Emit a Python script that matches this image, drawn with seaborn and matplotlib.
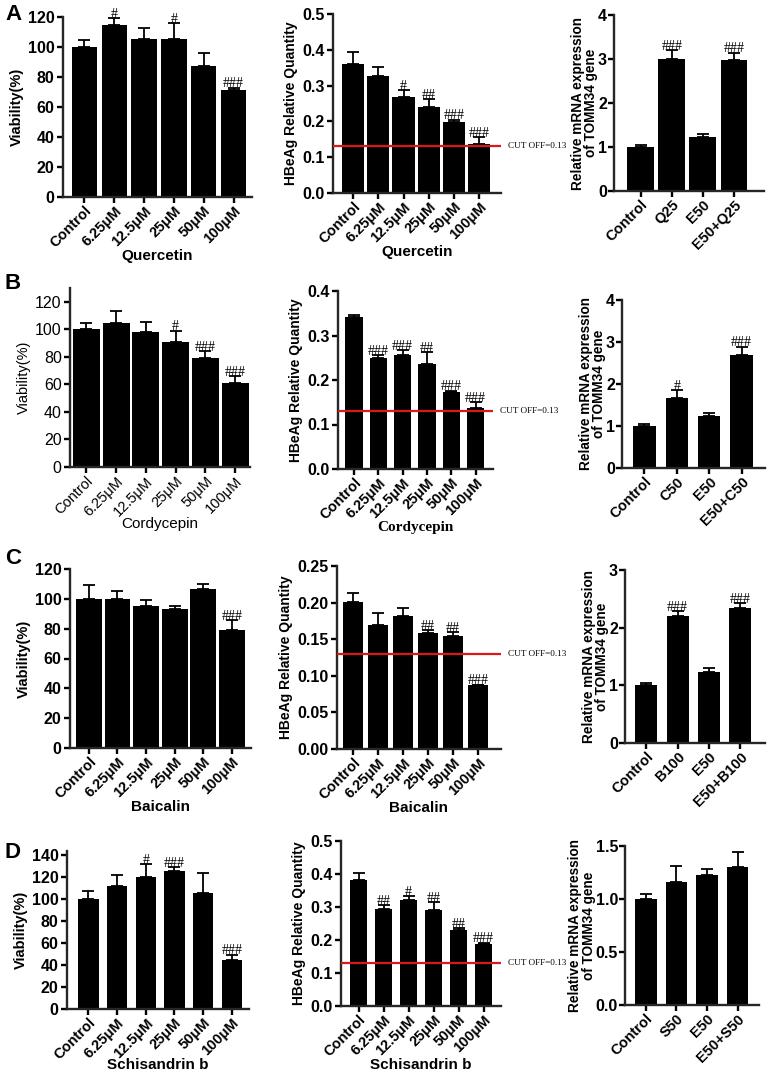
import numpy as np
import pandas as pd
import seaborn as sns
import matplotlib.pyplot as plt
from matplotlib.ticker import FormatStrFormatter

conc_labels = ["Control", "6.25μM", "12.5μM", "25μM", "50μM", "100μM"]

# row A - Quercetin
quercetin_viab = [100, 115, 105.6, 105.6, 87.3, 71.6]
quercetin_viab_err = [5, 4.5, 7.3, 10.2, 9, 1.3]
quercetin_viab_sig = ["", "#", "", "#", "", "###"]
quercetin_hbeag = [0.361, 0.328, 0.267, 0.240, 0.198, 0.138]
quercetin_hbeag_err = [0.033, 0.023, 0.021, 0.022, 0.007, 0.018]
quercetin_hbeag_sig = ["", "", "#", "##", "###", "###"]
quercetin_groups = ["Control", "Q25", "E50", "E50+Q25"]
quercetin_tomm = [1.0, 3.0, 1.23, 2.975]
quercetin_tomm_err = [0.05, 0.2, 0.06, 0.17]
quercetin_tomm_sig = ["", "###", "", "###"]

# row B - Cordycepin
cordycepin_viab = [100, 104.6, 98.3, 91, 79, 60.9]
cordycepin_viab_err = [4.5, 8.5, 6.7, 8, 5, 5]
cordycepin_viab_sig = ["", "", "", "#", "###", "###"]
cordycepin_hbeag = [0.341, 0.250, 0.257, 0.237, 0.173, 0.137]
cordycepin_hbeag_err = [0.006, 0.006, 0.011, 0.026, 0.003, 0.013]
cordycepin_hbeag_sig = ["", "###", "###", "##", "###", "###"]
cordycepin_groups = ["Control", "C50", "E50", "E50+C50"]
cordycepin_tomm = [1.0, 1.67, 1.24, 2.68]
cordycepin_tomm_err = [0.05, 0.18, 0.06, 0.21]
cordycepin_tomm_sig = ["", "#", "", "###"]

# row C - Baicalin
baicalin_viab = [100, 100, 95, 93, 106.8, 78.9]
baicalin_viab_err = [9, 5, 4, 2, 3.3, 7]
baicalin_viab_sig = ["", "", "", "", "", "###"]
baicalin_hbeag = [0.2005, 0.170, 0.182, 0.158, 0.155, 0.087]
baicalin_hbeag_err = [0.013, 0.016, 0.011, 0.004, 0.005, 0.001]
baicalin_hbeag_sig = ["", "", "", "##", "##", "###"]
baicalin_groups = ["Control", "B100", "E50", "E50+B100"]
baicalin_tomm = [1.0, 2.21, 1.233, 2.345]
baicalin_tomm_err = [0.04, 0.08, 0.06, 0.085]
baicalin_tomm_sig = ["", "###", "", "###"]

# row D - Schisandrin b
schisandrin_viab = [100, 111.7, 119.9, 126, 105.9, 45]
schisandrin_viab_err = [8, 10, 12.5, 3.3, 18.3, 4.6]
schisandrin_viab_sig = ["", "", "#", "###", "", "###"]
schisandrin_hbeag = [0.381, 0.293, 0.320, 0.290, 0.231, 0.189]
schisandrin_hbeag_err = [0.021, 0.012, 0.014, 0.025, 0.006, 0.003]
schisandrin_hbeag_sig = ["", "##", "#", "##", "##", "###"]
schisandrin_groups = ["Control", "S50", "E50", "E50+S50"]
schisandrin_tomm = [1.0, 1.16, 1.23, 1.30]
schisandrin_tomm_err = [0.045, 0.15, 0.05, 0.146]
schisandrin_tomm_sig = ["", "", "", ""]

cutoff = 0.13

sns.set_style("ticks")
plt.rcParams["font.family"] = ["Liberation Sans", "DejaVu Sans"]
plt.rcParams["axes.linewidth"] = 1.7
plt.rcParams["xtick.major.width"] = 1.7
plt.rcParams["ytick.major.width"] = 1.7
plt.rcParams["xtick.major.size"] = 4
plt.rcParams["ytick.major.size"] = 4
plt.rcParams["text.color"] = "black"
plt.rcParams["axes.labelcolor"] = "black"
plt.rcParams["xtick.color"] = "black"
plt.rcParams["ytick.color"] = "black"

W, H = 768, 1078
fig = plt.figure(figsize=(W / 100, H / 100), dpi=100)


def axes_px(left, top, right, bottom):
    return fig.add_axes([left / W, 1 - bottom / H, (right - left) / W, (bottom - top) / H])


def bar_panel(ax, labels, values, errors, marks, ymax, ytop, ystep, yfmt,
              ylabel, xlabel, width, pads, weight="bold", xfont=None, cut=False,
              ylabel_size=10.5, ylabelpad=3, ytickpad=2, xlabelpad=-1):
    df = pd.DataFrame({"group": labels, "value": values})
    sns.barplot(data=df, x="group", y="value", color="black", saturation=1,
                width=width, linewidth=0, ax=ax)
    pos = np.arange(len(labels))
    ax.errorbar(pos, values, yerr=[np.zeros(len(values)), errors], fmt="none",
                ecolor="black", elinewidth=1.3, capsize=4.5, capthick=1.3)
    for p, v, e, m in zip(pos, values, errors, marks):
        if m:
            ax.annotate(m, (p, v + e), xytext=(0, -2), textcoords="offset points",
                        ha="center", va="bottom", fontsize=10,
                        family="Liberation Serif")
    if cut:
        ax.axhline(cutoff, color="#d7191c", lw=1.6, zorder=5)
        ax.annotate("CUT OFF=0.13", (1, cutoff), xycoords=("axes fraction", "data"),
                    xytext=(5, 0), textcoords="offset points", va="center",
                    ha="left", fontsize=6.6, family="Liberation Serif",
                    annotation_clip=False)
    ax.set_xlim(-pads[0], len(labels) - 1 + pads[1])
    ax.set_ylim(0, ytop)
    ax.set_yticks(np.arange(0, ymax + ystep / 2, ystep))
    ax.yaxis.set_major_formatter(FormatStrFormatter(yfmt))
    ax.set_ylabel(ylabel, fontsize=ylabel_size, weight=weight,
                  labelpad=ylabelpad, linespacing=0.95)
    xl = dict(fontsize=11, weight="bold", labelpad=xlabelpad)
    if xfont:
        xl["family"] = xfont
    if weight == "normal":
        xl["weight"] = "normal"
    ax.set_xlabel(xlabel, **xl)
    ax.tick_params(axis="y", labelsize=11.5, pad=ytickpad)
    ax.tick_params(axis="x", labelsize=10.5, pad=1)
    for t in ax.get_yticklabels():
        t.set_fontweight(weight)
    for t in ax.get_xticklabels():
        t.set_fontweight(weight)
        t.set_rotation(45)
        t.set_ha("right")
        t.set_rotation_mode("anchor")
    sns.despine(ax=ax)


viab_label = "Viability(%)"
hbeag_label = "HBeAg Relative Quantity"
tomm_label = "Relative mRNA expression\nof TOMM34 gene"
hb = dict(cut=True, ylabel_size=10)
tm = dict(ylabel_size=9.8, ylabelpad=0, ytickpad=1)

# row A
ax = axes_px(63, 17, 252, 197)
bar_panel(ax, conc_labels, quercetin_viab, quercetin_viab_err, quercetin_viab_sig,
          120, 120, 20, "%d", viab_label, "Quercetin", 0.85, (0.72, 0.62))
ax = axes_px(333, 14, 501, 193)
bar_panel(ax, conc_labels, quercetin_hbeag, quercetin_hbeag_err, quercetin_hbeag_sig,
          0.5, 0.5, 0.1, "%.1f", hbeag_label, "Quercetin", 0.88, (0.8, 0.87), **hb)
ax = axes_px(614, 15, 764, 191)
bar_panel(ax, quercetin_groups, quercetin_tomm, quercetin_tomm_err, quercetin_tomm_sig,
          4, 4, 1, "%d", tomm_label, "", 0.86, (0.86, 0.97), **tm)

# row B
ax = axes_px(70, 288, 250, 467)
bar_panel(ax, conc_labels, cordycepin_viab, cordycepin_viab_err, cordycepin_viab_sig,
          120, 130, 20, "%d", viab_label, "Cordycepin", 0.9, (0.55, 0.5), weight="normal")
ax = axes_px(338, 291, 493, 469)
bar_panel(ax, conc_labels, cordycepin_hbeag, cordycepin_hbeag_err, cordycepin_hbeag_sig,
          0.4, 0.4, 0.1, "%.1f", hbeag_label, "Cordycepin", 0.71, (0.66, 0.71),
          xfont="Liberation Serif", **hb)
ax = axes_px(622, 300, 765, 468)
bar_panel(ax, cordycepin_groups, cordycepin_tomm, cordycepin_tomm_err, cordycepin_tomm_sig,
          4, 4, 1, "%d", tomm_label, "", 0.69, (0.69, 0.72), **tm)

# row C
ax = axes_px(70, 569, 251, 748)
bar_panel(ax, conc_labels, baicalin_viab, baicalin_viab_err, baicalin_viab_sig,
          120, 120, 20, "%d", viab_label, "Baicalin", 0.9, (0.66, 0.67))
ax = axes_px(337, 566, 501, 749)
bar_panel(ax, conc_labels, baicalin_hbeag, baicalin_hbeag_err, baicalin_hbeag_sig,
          0.25, 0.25, 0.05, "%.2f", hbeag_label, "Baicalin", 0.82, (0.65, 0.92), **hb)
ax = axes_px(625, 570, 765, 743)
bar_panel(ax, baicalin_groups, baicalin_tomm, baicalin_tomm_err, baicalin_tomm_sig,
          3, 3, 1, "%d", tomm_label, "", 0.7, (0.67, 0.78), **tm)

# row D
ax = axes_px(67, 851, 249, 1009)
bar_panel(ax, conc_labels, schisandrin_viab, schisandrin_viab_err, schisandrin_viab_sig,
          140, 144, 20, "%d", viab_label, "Schisandrin b", 0.7, (0.75, 0.6), xlabelpad=-3)
ax = axes_px(341, 841, 501, 1006)
bar_panel(ax, conc_labels, schisandrin_hbeag, schisandrin_hbeag_err, schisandrin_hbeag_sig,
          0.5, 0.5, 0.1, "%.1f", hbeag_label, "Schisandrin b", 0.7, (0.7, 0.69), **hb)
ax = axes_px(625, 846, 759, 1005)
bar_panel(ax, schisandrin_groups, schisandrin_tomm, schisandrin_tomm_err, schisandrin_tomm_sig,
          1.5, 1.5, 0.5, "%.1f", tomm_label, "", 0.7, (0.68, 0.7), **tm)

for letter, ypx in [("A", 15), ("B", 283), ("C", 558), ("D", 852)]:
    fig.text(5 / W, 1 - ypx / H, letter, fontsize=16, weight="bold", va="center", ha="left")

fig.savefig("out.png", dpi=100)
